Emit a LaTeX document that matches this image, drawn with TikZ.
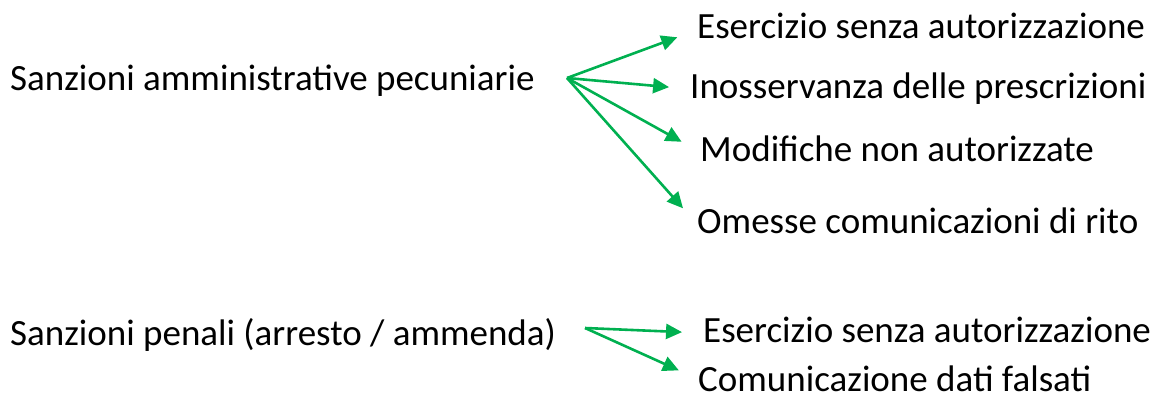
\documentclass[tikz,border=0pt]{standalone}
\usepackage{fontspec}
\setmainfont{Carlito}
\usetikzlibrary{arrows.meta}
\definecolor{officegreen}{RGB}{0,176,80}
\tikzset{
  label text/.style={anchor=base west, inner sep=0pt, text height=24pt, text depth=6pt,
    font=\fontsize{37}{44}\selectfont},
  pile/.style={draw=officegreen, line width=2.6pt, -{Triangle[length=16pt,width=15pt]},
    shorten >=21pt},
}
\begin{document}
\begin{tikzpicture}[x=1pt, y=-1pt]
    \useasboundingbox (0,0) rectangle (1155,396);

    \node[label text] (amm) at (10,90) {Sanzioni amministrative pecuniarie};
    \node[label text] (pen) at (10,345) {Sanzioni penali (arresto / ammenda)};

    \node[label text] (esa) at (697,39) {Esercizio senza autorizzazione};
    \node[label text] (ino) at (690,98) {Inosservanza delle prescrizioni};
    \node[label text] (mod) at (700,161) {Modifiche non autorizzate};
    \node[label text] (ome) at (697,233) {Omesse comunicazioni di rito};

    \node[label text] (esp) at (703,342) {Esercizio senza autorizzazione};
    \node[label text, text depth=0pt] (com) at (698,391) {Comunicazione dati falsati};

    \coordinate (hubamm) at (567,78);
    \coordinate (hubpen) at (585,328);

    \draw[pile] (hubamm) -- (esa.west);
    \draw[pile] (hubamm) -- (ino.west);
    \draw[pile] (hubamm) -- (mod.west);
    \draw[pile] (hubamm) -- (ome.west);

    \draw[pile] (hubpen) -- (esp.west);
    \draw[pile] (hubpen) -- (com.west);

\end{tikzpicture}
\end{document}
